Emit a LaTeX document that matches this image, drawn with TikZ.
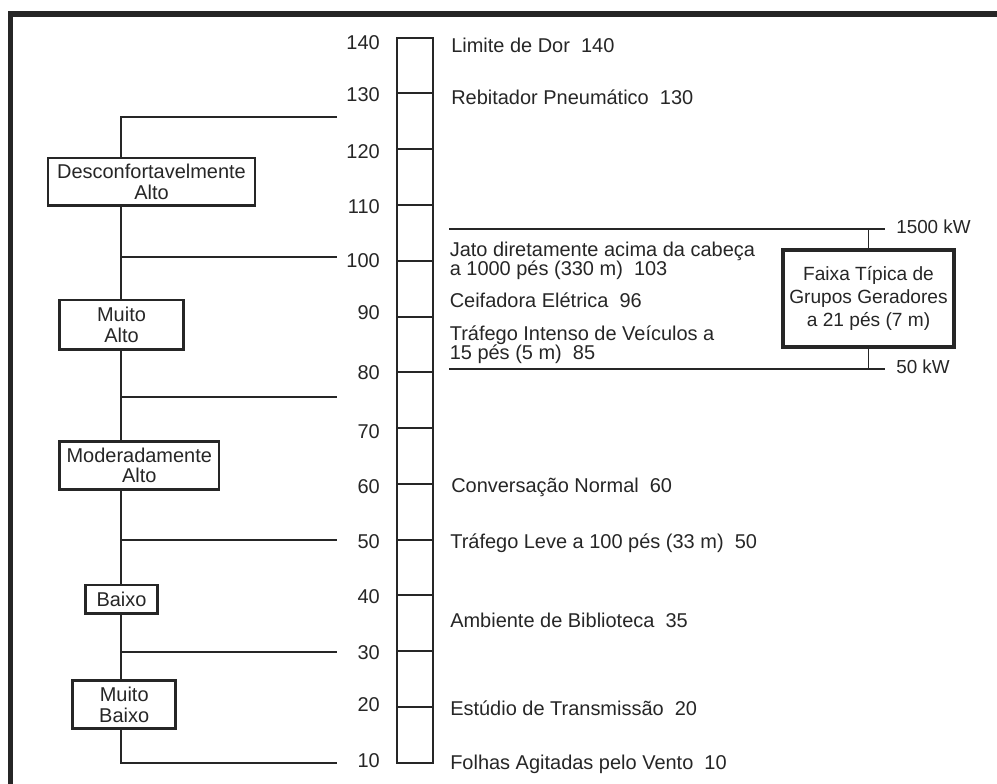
\documentclass[tikz,border=0pt]{standalone}
\usepackage{fontspec}
\setmainfont{Liberation Sans}
\definecolor{ink}{HTML}{262626}
\newcommand\pxu{0.025cm}

\begin{document}
\begin{tikzpicture}[x=0.025cm, y=-0.025cm,
  every node/.style={text=ink, font=\fontsize{14.2}{14.8}\selectfont},
  wire/.style={draw=ink, line width=1.4pt},
  bandbox/.style={draw=ink, line width=1.9pt, fill=white, align=center, inner sep=0pt},
  genbox/.style={draw=ink, line width=2.8pt, fill=white, align=center, inner sep=0pt,
    font=\fontsize{13.6}{16.6}\selectfont},
  srctext/.style={anchor=base west, inner sep=0pt, align=left,
    font=\fontsize{14.2}{13.7}\selectfont},
  dbnum/.style={anchor=base east, inner sep=0pt},
  kwtext/.style={anchor=base west, inner sep=0pt, font=\fontsize{13.4}{16}\selectfont}]
  \useasboundingbox (0,0) rectangle (997,783);
  \clip (0,0) rectangle (997,783);
  \draw[ink, line width=3.6pt] (10.5,800) -- (10.5,14) -- (1010,14);

  \node[draw=ink, line width=1.6pt, inner sep=0pt, minimum width=35.4*\pxu,
    minimum height=725*\pxu] (scale) at (415,400.2) {};
  \foreach \v in {20,30,...,130} {
    \pgfmathsetmacro\ty{762.7-(\v-10)*5.577}
    \draw[wire] (scale.west |- 0,\ty) -- (scale.east |- 0,\ty);
  }
  \foreach \v/\b in {140/49,130/101,120/158,110/213,100/267,90/319,80/379,
    70/438.3,60/493.3,50/548.3,40/603.3,30/659,20/711.7,10/767.7}
    \node[dbnum] (n\v) at (380,\b) {\v};

  \foreach \v/\y in {125/117.3,100/257.3,75/397.3,50/539.7,30/651.7,10/762.7} {
    \coordinate (l\v) at (121,\y);
    \coordinate (r\v) at (337,\y);
  }
  \draw[wire] (r125) -- (l125) -- (l10) -- (r10);
  \foreach \v in {100,75,50,30}
    \draw[wire] (l\v) -- (r\v);

  \node[bandbox, minimum width=207*\pxu, minimum height=47.7*\pxu] (desconf)
    at (151.5,181.9) {Desconfortavelmente\\Alto};
  \node[bandbox, minimum width=123.6*\pxu, minimum height=49.3*\pxu] (muitoalto)
    at (121.5,324.7) {Muito\\Alto};
  \node[bandbox, minimum width=159.3*\pxu, minimum height=48*\pxu] (modalto)
    at (139.3,465.3) {Moderadamente\\Alto};
  \node[bandbox, minimum width=71.6*\pxu, minimum height=28.3*\pxu] (baixo)
    at (121.5,599.2) {Baixo};
  \node[bandbox, minimum width=103*\pxu, minimum height=48.4*\pxu] (muitobaixo)
    at (124.2,704.5) {Muito\\Baixo};

  \node[srctext] (dor) at (451,52.7) {Limite de Dor~~140};
  \node[srctext] (rebitador) at (451,104) {Rebitador Pneumático~~130};
  \node[srctext] (jato) at (449.5,275.7) {Jato diretamente acima da cabeça\\a 1000 pés (330 m)~~103};
  \node[srctext] (ceifadora) at (449.5,307.3) {Ceifadora Elétrica~~96};
  \node[srctext] (intenso) at (449.5,359.3) {Tráfego Intenso de Veículos a\\15 pés (5 m)~~85};
  \node[srctext] (conversa) at (451,492.7) {Conversação Normal~~60};
  \node[srctext] (leve) at (450,548.7) {Tráfego Leve a 100 pés (33 m)~~50};
  \node[srctext] (biblioteca) at (450,627.3) {Ambiente de Biblioteca~~35};
  \node[srctext] (estudio) at (450,715.7) {Estúdio de Transmissão~~20};
  \node[srctext] (folhas) at (450,769.3) {Folhas Agitadas pelo Vento~~10};

  \coordinate (gtopw) at (449,228.7);
  \coordinate (gtope) at (885,228.7);
  \coordinate (gbotw) at (449,369.3);
  \coordinate (gbote) at (885,369.3);
  \draw[wire] (gtopw) -- (gtope);
  \draw[wire] (gbotw) -- (gbote);
  \node[genbox, minimum width=171*\pxu, minimum height=97*\pxu] (faixa)
    at (868.5,298.5) {Faixa Típica de\\Grupos Geradores\\a 21 pés (7 m)};
  \draw[wire] (faixa.north) -- (faixa.north |- gtope);
  \draw[wire] (faixa.south) -- (faixa.south |- gbote);
  \node[kwtext] (kwmax) at (896,233.3) {1500 kW};
  \node[kwtext] (kwmin) at (896,373.3) {50 kW};
\end{tikzpicture}
\end{document}
